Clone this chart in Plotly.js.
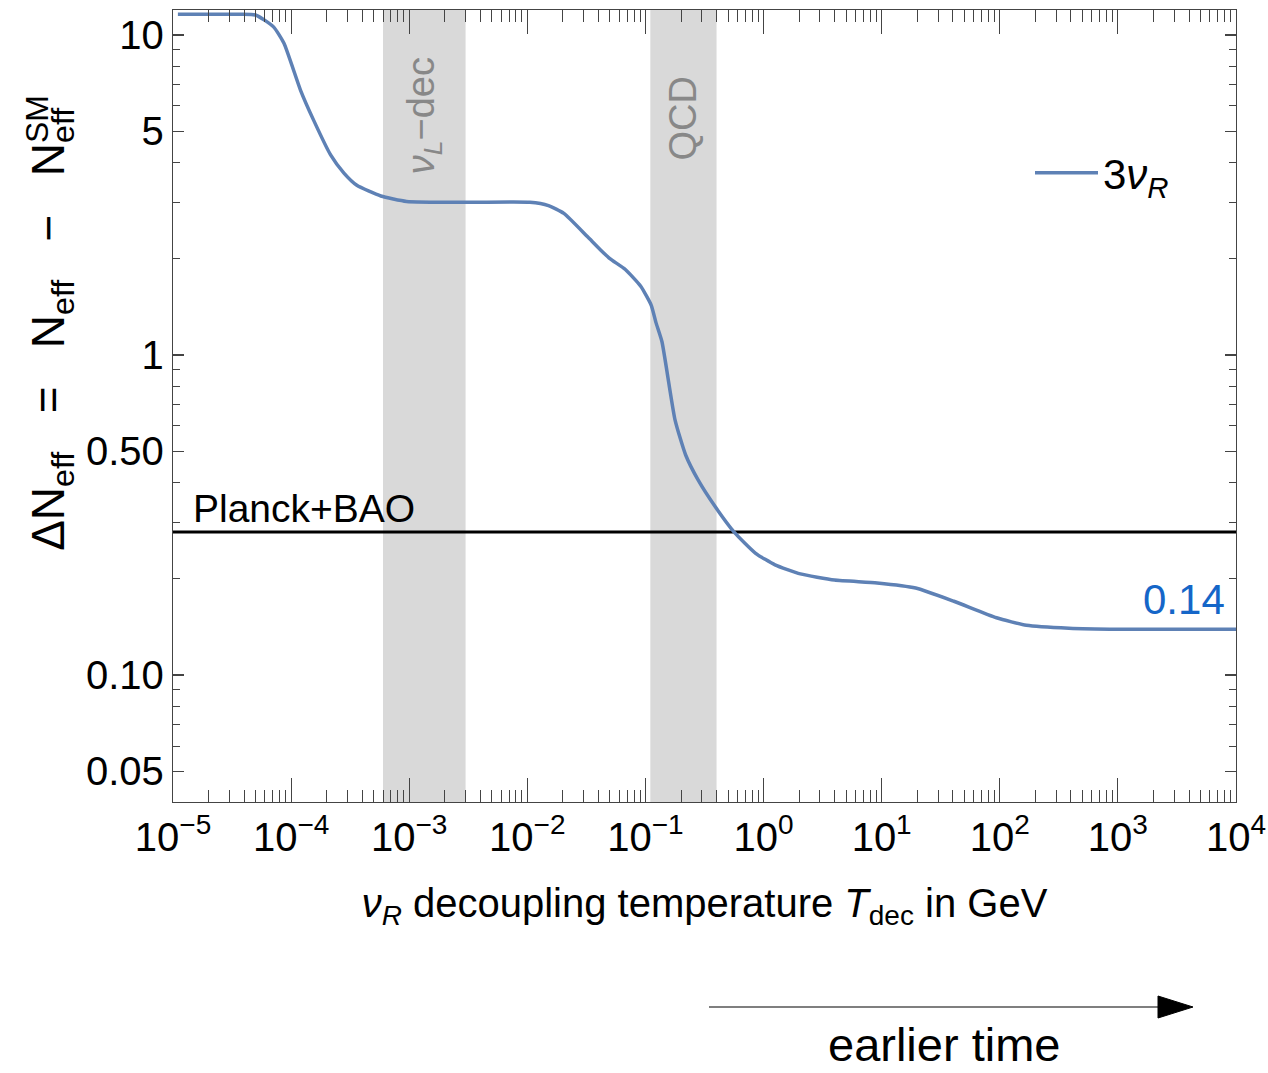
<!DOCTYPE html>
<html>
<head>
<meta charset="utf-8">
<script src="https://cdn.plot.ly/plotly-3.0.1.min.js"></script>
<style>html,body{margin:0;padding:0;background:#fff;}#chart{width:1268px;height:1073px;}</style>
</head>
<body>
<div id="chart"></div>
<script>
// ---- data ----
const tdec = [1.10e-5, 3.16e-5, 5.0e-5, 7.1e-5, 8.7e-5, 1.2e-4, 1.55e-4, 2.16e-4, 2.8e-4, 3.6e-4,
  5.75e-4, 9.5e-4, 3.16e-3, 0.0105, 0.0151, 0.0204, 0.0324, 0.0417, 0.050, 0.0676,
  0.0912, 0.112, 0.123, 0.138, 0.178, 0.219, 0.279, 0.389, 0.566, 0.857,
  1.25, 2.05, 3.99, 9.16, 19.4, 40.9, 93.8, 168, 385, 1000, 10000];
const dNeff = [11.6, 11.6, 11.55, 10.6, 9.42, 6.73, 5.42, 4.22, 3.70, 3.39,
  3.14, 3.02, 3.00, 3.00, 2.93, 2.77, 2.34, 2.13, 2.00, 1.85,
  1.64, 1.43, 1.26, 1.10, 0.627, 0.487, 0.407, 0.336, 0.279, 0.240,
  0.221, 0.207, 0.198, 0.194, 0.187, 0.170, 0.151, 0.143, 0.140, 0.139, 0.139];
const seriesName = "3<i>ν</i><sub><i>R</i></sub>";
const planckBound = 0.28;
const planckX = [1e-5, 1e4];
const planckLabel = "Planck+BAO";
const endValueLabel = "0.14";
const nuLDecBand = [6.0e-4, 3.0e-3];
const qcdBand = [0.11, 0.40];
const bandLabels = ["<i>ν</i><sub><i>L</i></sub>−dec", "QCD"];
const xTickVals = [1e-5, 1e-4, 1e-3, 1e-2, 1e-1, 1, 10, 100, 1000, 10000];
const xTickText = ["10<sup>−5</sup>", "10<sup>−4</sup>", "10<sup>−3</sup>", "10<sup>−2</sup>", "10<sup>−1</sup>",
  "10<sup>0</sup>", "10<sup>1</sup>", "10<sup>2</sup>", "10<sup>3</sup>", "10<sup>4</sup>"];
const yTickVals = [0.05, 0.1, 0.5, 1, 5, 10];
const yTickText = ["0.05", "0.10", "0.50", "1", "5", "10"];

// minor tick positions (2..9 per decade)
function minorLog(d0, d1) {
  const out = [];
  for (let d = d0; d <= d1; d++) for (let m = 2; m <= 9; m++) out.push(m * Math.pow(10, d));
  return out;
}

const font = "Liberation Sans, Arial, sans-serif";
const blue = "#5e81b5";
const px2paperX = p => (p - 173) / 1063;
const px2paperY = p => (802 - p) / 792;
const sp = n => "\u00A0".repeat(n);

// invisible lead-in shifts the (always centred) axis title up to where the reference has it
const yTitle = "<span style=\"color:rgba(0,0,0,0)\">0</span>" + sp(10) +
  "ΔN<sub>eff</sub>" + sp(3) + "=" + sp(3) + "N<sub>eff</sub>" + sp(3) + "−" + sp(3) + "N<sub>eff</sub>";

const traces = [
  { x: planckX, y: [planckBound, planckBound], mode: "lines", line: { color: "#000", width: 3 },
    showlegend: false, hoverinfo: "skip" },
  { x: tdec, y: dNeff, mode: "lines", name: seriesName,
    line: { color: blue, width: 3.5, shape: "spline", smoothing: 0.5 } }
];

const layout = {
  width: 1268, height: 1073,
  margin: { l: 173, r: 32, t: 10, b: 271 },
  paper_bgcolor: "#fff", plot_bgcolor: "#fff",
  font: { family: font, color: "#000", size: 38 },
  showlegend: true,
  legend: { x: px2paperX(1030), y: px2paperY(173), xanchor: "left", yanchor: "middle", bgcolor: "rgba(0,0,0,0)",
    font: { size: 42, family: font }, itemwidth: 63 },
  xaxis: {
    type: "log", range: [-5, 4], showgrid: false, zeroline: false,
    showline: true, linecolor: "#444", linewidth: 1.2, mirror: "ticks",
    ticks: "inside", ticklen: 24, tickwidth: 1.2, tickcolor: "#444",
    tickmode: "array", tickvals: xTickVals, ticktext: xTickText,
    tickfont: { size: 40, family: font },
    minor: { tickmode: "array", tickvals: minorLog(-5, 3), ticks: "inside", ticklen: 12, tickwidth: 1, tickcolor: "#444", showgrid: false },
    title: { text: "<i>ν</i><sub><i>R</i></sub> decoupling temperature <i>T</i><sub>dec</sub> in GeV",
      font: { size: 40, family: font }, standoff: 30 }
  },
  yaxis: {
    type: "log", range: [Math.log10(0.0401), Math.log10(11.97)], showgrid: false, zeroline: false,
    showline: true, linecolor: "#444", linewidth: 1.2, mirror: "ticks",
    ticks: "inside", ticklen: 11, tickwidth: 1.2, tickcolor: "#444",
    tickmode: "array", tickvals: yTickVals, ticktext: yTickText,
    tickfont: { size: 40, family: font },
    minor: { tickmode: "array", tickvals: minorLog(-2, 0), ticks: "inside", ticklen: 7, tickwidth: 1, tickcolor: "#444", showgrid: false },
    title: { text: yTitle, font: { size: 46, family: font }, standoff: 6 }
  },
  shapes: [
    { type: "rect", xref: "x", yref: "paper", x0: nuLDecBand[0], x1: nuLDecBand[1], y0: 0, y1: 1,
      fillcolor: "#d9d9d9", line: { width: 0 }, layer: "below" },
    { type: "rect", xref: "x", yref: "paper", x0: qcdBand[0], x1: qcdBand[1], y0: 0, y1: 1,
      fillcolor: "#d9d9d9", line: { width: 0 }, layer: "below" },
    { type: "line", xref: "paper", yref: "paper", x0: px2paperX(709), x1: px2paperX(1165),
      y0: px2paperY(1007), y1: px2paperY(1007), line: { color: "#555", width: 1.5 } },
    { type: "path", xref: "paper", yref: "paper",
      path: "M " + px2paperX(1158) + " " + px2paperY(996) + " L " + px2paperX(1193) + " " + px2paperY(1007) +
        " L " + px2paperX(1158) + " " + px2paperY(1018) + " Z",
      fillcolor: "#000", line: { color: "#000", width: 1 } }
  ],
  annotations: [
    { text: bandLabels[0], xref: "x", yref: "paper", x: Math.log10(Math.sqrt(nuLDecBand[0] * nuLDecBand[1])),
      y: px2paperY(116), xanchor: "center", yanchor: "middle", textangle: -90, showarrow: false,
      font: { size: 38, color: "#888", family: font } },
    { text: bandLabels[1], xref: "x", yref: "paper", x: Math.log10(Math.sqrt(qcdBand[0] * qcdBand[1])),
      y: px2paperY(118), xanchor: "center", yanchor: "middle", textangle: -90, showarrow: false,
      font: { size: 38, color: "#888", family: font } },
    { text: planckLabel, xref: "x", yref: "y", x: -4.85, y: Math.log10(planckBound), xanchor: "left", yanchor: "bottom",
      yshift: 0, showarrow: false, font: { size: 39, color: "#000", family: font } },
    { text: endValueLabel, xref: "x", yref: "y", x: 3.92, y: Math.log10(dNeff[dNeff.length - 1]), xanchor: "right", yanchor: "bottom",
      yshift: 4, showarrow: false, font: { size: 42, color: "#1566c8", family: font } },
    { text: "earlier time", xref: "paper", yref: "paper", x: px2paperX(944), y: px2paperY(1073),
      xanchor: "center", yanchor: "bottom", showarrow: false, font: { size: 47, color: "#000", family: font } },
    { text: "SM", xref: "paper", yref: "paper", x: px2paperX(37), y: px2paperY(119), textangle: -90,
      xanchor: "center", yanchor: "middle", showarrow: false, font: { size: 32, color: "#000", family: font } }
  ]
};

Plotly.newPlot("chart", traces, layout, { displayModeBar: false, staticPlot: true });
</script>
</body>
</html>
